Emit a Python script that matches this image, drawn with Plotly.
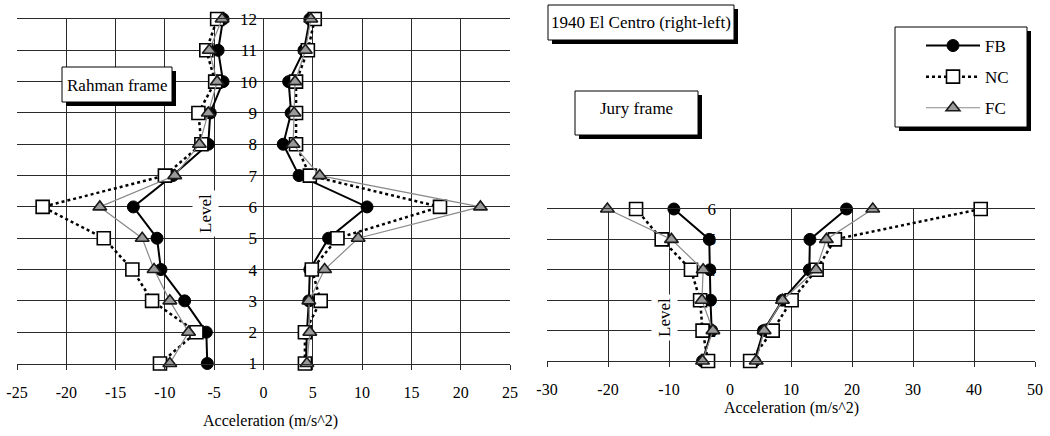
import plotly.graph_objects as go

W, H = 1050, 436

# ---------------- data ----------------
levels_rahman = [1, 2, 3, 4, 5, 6, 7, 8, 9, 10, 11, 12]
levels_jury = [1, 2, 3, 4, 5, 6]

# Rahman frame (levels 1..12): min (left envelope) and max (right envelope)
rahman_fb_min = [-5.7, -5.8, -8.0, -10.4, -10.8, -13.2, -9.2, -5.6, -5.4, -4.1, -4.6, -4.1]
rahman_fb_max = [4.3, 4.4, 4.6, 4.7, 6.6, 10.5, 3.6, 2.0, 2.8, 2.55, 4.1, 4.7]
rahman_nc_min = [-10.5, -6.8, -11.3, -13.3, -16.2, -22.4, -10.0, -6.3, -6.6, -4.9, -5.8, -4.7]
rahman_nc_max = [4.2, 4.2, 5.8, 4.9, 7.5, 17.9, 4.7, 3.3, 3.3, 3.3, 4.5, 5.2]
rahman_fc_min = [-9.5, -7.6, -9.5, -11.1, -12.3, -16.6, -9.0, -6.5, -5.6, -4.7, -5.5, -4.2]
rahman_fc_max = [4.4, 4.7, 4.6, 6.2, 9.6, 22.0, 5.7, 3.0, 3.1, 3.2, 4.25, 4.8]

# Jury frame (levels 1..6)
jury_fb_min = [-4.5, -3.0, -3.2, -3.3, -3.4, -9.2]
jury_fb_max = [4.0, 5.5, 8.6, 13.0, 13.1, 19.1]
jury_nc_min = [-3.6, -4.5, -4.9, -6.4, -11.2, -15.4]
jury_nc_max = [3.3, 7.0, 10.1, 14.2, 17.2, 41.1]
jury_fc_min = [-4.5, -2.8, -4.6, -4.4, -9.6, -20.1]
jury_fc_max = [4.3, 5.6, 8.6, 14.1, 15.8, 23.4]

left_xticks = [-25, -20, -15, -10, -5, 0, 5, 10, 15, 20, 25]
left_xticklabels = ["-25", "-20", "-15", "-10", "-5", "0", "5", "10", "15", "20", "25"]
right_xticks = [-30, -20, -10, 0, 10, 20, 30, 40, 50]
right_xticklabels = ["-30", "-20", "-10", "0", "10", "20", "30", "40", "50"]

series_names = ["FB", "NC", "FC"]

# ---------------- styles ----------------
FONT = "Liberation Serif, Times New Roman, serif"
GRID = "#2a2a2a"

styles = {
    "FB": dict(line=dict(color="black", width=2, dash="solid"),
               marker=dict(symbol="circle", size=12, color="black",
                           line=dict(color="black", width=1))),
    "NC": dict(line=dict(color="black", width=2.5, dash="dot"),
               marker=dict(symbol="square", size=13, color="white",
                           line=dict(color="black", width=1.6))),
    "FC": dict(line=dict(color="#8a8a8a", width=1.2, dash="solid"),
               marker=dict(symbol="triangle-up", size=12, color="#9a9a9a",
                           line=dict(color="#1a1a1a", width=1.6))),
}


def px_x(p):
    return p / W


def px_y(p):
    return 1 - p / H


fig = go.Figure()


def add_series(name, xmin, xmax, levels, xa, ya, showlegend):
    x = list(xmin) + [None] + list(xmax)
    y = list(levels) + [None] + list(levels)
    st = styles[name]
    fig.add_trace(go.Scatter(
        x=x, y=y, mode="lines+markers", name=name, legendgroup=name,
        showlegend=showlegend, xaxis=xa, yaxis=ya,
        line=st["line"], marker=st["marker"], connectgaps=False,
        cliponaxis=False,
    ))


rahman = {"FB": (rahman_fb_min, rahman_fb_max),
          "NC": (rahman_nc_min, rahman_nc_max),
          "FC": (rahman_fc_min, rahman_fc_max)}
jury = {"FB": (jury_fb_min, jury_fb_max),
        "NC": (jury_nc_min, jury_nc_max),
        "FC": (jury_fc_min, jury_fc_max)}

for n in series_names:
    add_series(n, rahman[n][0], rahman[n][1], levels_rahman, "x", "y", True)
for n in series_names:
    add_series(n, jury[n][0], jury[n][1], levels_jury, "x2", "y2", False)

# ---------------- axes ----------------
xcommon = dict(showgrid=True, gridcolor=GRID, gridwidth=1, zeroline=False,
               showline=True, linecolor=GRID, linewidth=1, mirror=True,
               ticks="outside", ticklen=5, tickcolor=GRID,
               ticklabelstandoff=9, automargin=False,
               tickfont=dict(family=FONT, size=16, color="black"))
ycommon = dict(showgrid=True, gridcolor=GRID, gridwidth=1, zeroline=False,
               showline=False, ticks="", layer="below traces",
               automargin=False,
               tickfont=dict(family=FONT, size=17, color="black"))

fig.update_layout(
    width=W, height=H, autosize=False,
    margin=dict(l=0, r=0, t=0, b=0, pad=0, autoexpand=False),
    paper_bgcolor="white", plot_bgcolor="white",
    font=dict(family=FONT, color="black"),
    xaxis=dict(domain=[px_x(17), px_x(510)], range=[-25, 25],
               tickvals=left_xticks, ticktext=left_xticklabels,
               anchor="y", **xcommon),
    yaxis=dict(domain=[px_y(363.5), px_y(19)], range=[1, 12],
               tickvals=levels_rahman, ticktext=[str(v) for v in levels_rahman],
               anchor="free", position=px_x(265), ticklabelstandoff=8,
               **ycommon),
    xaxis2=dict(domain=[px_x(547), px_x(1035)], range=[-30, 50],
                tickvals=right_xticks, ticktext=right_xticklabels,
                anchor="y2", **xcommon),
    yaxis2=dict(domain=[px_y(361), px_y(209)], range=[1, 6],
                tickvals=levels_jury, ticktext=[str(v) for v in levels_jury],
                anchor="free", position=px_x(730), ticklabelstandoff=14,
                **ycommon),
    showlegend=True,
    legend=dict(x=px_x(921), y=px_y(28), xanchor="left", yanchor="top",
                bgcolor="rgba(0,0,0,0)", borderwidth=0,
                font=dict(family=FONT, size=17, color="black"),
                tracegroupgap=6, itemwidth=54),
)

# ---------------- boxes with shadows ----------------
shapes = []


def shadow_box(x0, y0, x1, y1, off=4):
    shapes.append(dict(type="rect", xref="paper", yref="paper",
                       x0=px_x(x0 + off), x1=px_x(x1 + off),
                       y0=px_y(y1 + off), y1=px_y(y0 + off),
                       fillcolor="black", line=dict(width=0), layer="above"))
    shapes.append(dict(type="rect", xref="paper", yref="paper",
                       x0=px_x(x0), x1=px_x(x1), y0=px_y(y1), y1=px_y(y0),
                       fillcolor="white", line=dict(color="black", width=1),
                       layer="above"))


shadow_box(62, 67, 172, 102)     # Rahman frame
shadow_box(548, 5, 734, 40)      # 1940 El Centro
shadow_box(575, 91, 698, 135)    # Jury frame
shadow_box(895, 27, 1027, 127)   # legend frame
fig.update_layout(shapes=shapes)

annotations = [
    dict(text="Rahman frame", x=px_x(117), y=px_y(85), size=17),
    dict(text="1940 El Centro (right-left)", x=px_x(641), y=px_y(22), size=17),
    dict(text="Jury frame", x=px_x(636), y=px_y(108), size=17),
    dict(text="Acceleration (m/s^2)", x=px_x(270), y=px_y(421), size=16),
    dict(text="Acceleration (m/s^2)", x=px_x(791), y=px_y(408), size=16),
]
for a in annotations:
    fig.add_annotation(text=a["text"], x=a["x"], y=a["y"], xref="paper",
                       yref="paper", showarrow=False, xanchor="center",
                       yanchor="middle",
                       font=dict(family=FONT, size=a["size"], color="black"))

# rotated "Level" labels with white background
for (lx, ly) in [(205, 214), (664, 318)]:
    fig.add_annotation(text="Level", x=px_x(lx), y=px_y(ly), xref="paper",
                       yref="paper", showarrow=False, textangle=-90,
                       xanchor="center", yanchor="middle", bgcolor="white",
                       borderpad=3,
                       font=dict(family=FONT, size=17, color="black"))

fig.write_html("out.html")
